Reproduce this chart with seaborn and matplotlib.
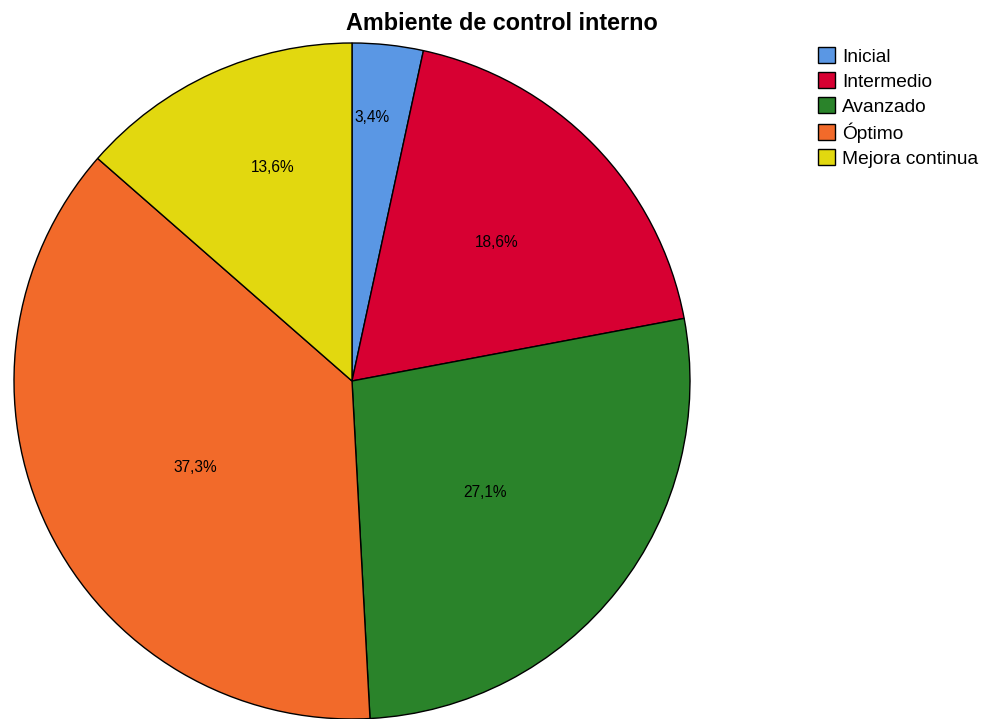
import numpy as np
import matplotlib
matplotlib.use("Agg")
import matplotlib.pyplot as plt
import seaborn as sns

categories = ["Inicial", "Intermedio", "Avanzado", "Óptimo", "Mejora continua"]
counts = [2, 11, 16, 22, 8]
colors = ["#5A97E4", "#D70032", "#2A832A", "#F26A2A", "#E2D80F"]
label_dist = [0.783, 0.592, 0.514, 0.53, 0.675]
label_shift = [1.8, -0.6, -2.0, 2.8, -4.1]
title = "Ambiente de control interno"

sns.set_theme(style="white")
plt.rcParams["font.family"] = ["Liberation Sans", "DejaVu Sans"]
plt.rcParams["text.color"] = "black"

W, H = 987, 719
fig = plt.figure(figsize=(W / 100, H / 100), dpi=100)
cx, cy, r = 352, 381, 338
ax = fig.add_axes([(cx - r) / W, (H - cy - r) / H, 2 * r / W, 2 * r / H])

wedges, _ = ax.pie(counts, colors=colors, startangle=90, counterclock=False,
                   wedgeprops=dict(edgecolor="black", linewidth=1.0))
ax.set_xlim(-1, 1)
ax.set_ylim(-1, 1)
ax.set_aspect("equal")
ax.axis("off")

total = sum(counts)
for w, c, d, s in zip(wedges, counts, label_dist, label_shift):
    ang = np.deg2rad((w.theta1 + w.theta2) / 2 + s)
    pct = f"{100 * c / total:.1f}%".replace(".", ",")
    ax.text(d * np.cos(ang), d * np.sin(ang), pct, ha="center", va="center",
            fontsize=11.2, color="black")

fig.text(502 / W, 1 - 24 / H, title, ha="center", va="center",
         fontsize=16.8, fontweight="bold", color="black")

leg = fig.legend(wedges, categories, loc="upper left",
                 bbox_to_anchor=(818 / W, 1 - 47 / H), borderaxespad=0,
                 borderpad=0, frameon=False, fontsize=13.8, handlelength=0.9,
                 handleheight=0.9, handletextpad=0.35, labelspacing=0.34)
for h in leg.legend_handles:
    h.set_edgecolor("black")
    h.set_linewidth(1.0)
for t in leg.get_texts():
    t.set_color("black")

fig.savefig("out.png", dpi=100)
